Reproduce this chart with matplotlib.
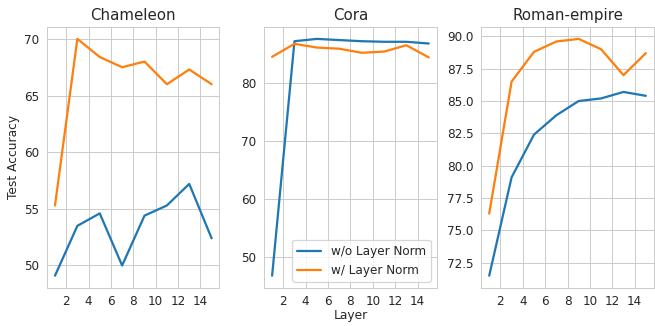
import matplotlib
matplotlib.use('Agg')
import matplotlib.pyplot as plt
import seaborn as sns

sns.set_style('whitegrid')
plt.rcParams['xtick.labelsize'] = 9.6
plt.rcParams['ytick.labelsize'] = 9.6
plt.rcParams['axes.labelsize'] = 9.8
plt.rcParams['legend.fontsize'] = 9.6
plt.rcParams['xtick.major.pad'] = 2.5
plt.rcParams['ytick.major.pad'] = 3

layers = [1, 3, 5, 7, 9, 11, 13, 15]

# Chameleon
cham_wo = [49.1, 53.5, 54.6, 50.0, 54.4, 55.3, 57.2, 52.4]
cham_w = [55.3, 70.0, 68.4, 67.5, 68.0, 66.0, 67.3, 66.0]

# Cora
cora_wo = [46.7, 87.3, 87.7, 87.5, 87.3, 87.2, 87.2, 86.9]
cora_w = [84.6, 86.85, 86.2, 86.0, 85.3, 85.5, 86.6, 84.5]

# Roman-empire
roman_wo = [71.5, 79.1, 82.4, 83.9, 85.0, 85.2, 85.7, 85.4]
roman_w = [76.3, 86.5, 88.8, 89.6, 89.8, 89.0, 87.0, 88.7]

titles = ['Chameleon', 'Cora', 'Roman-empire']
series_wo = [cham_wo, cora_wo, roman_wo]
series_w = [cham_w, cora_w, roman_w]

fig, axes = plt.subplots(1, 3, figsize=(655/90, 326/90), dpi=90)
fig.subplots_adjust(left=0.072, right=0.998, top=0.917, bottom=0.118, wspace=0.26)

for ax, t, ywo, yw in zip(axes, titles, series_wo, series_w):
    ax.plot(layers, ywo, color='#1f77b4', lw=1.8, label='w/o Layer Norm')
    ax.plot(layers, yw, color='#ff7f0e', lw=1.8, label='w/ Layer Norm')
    ax.set_title(t, fontsize=12)
    ax.set_xticks(range(2, 15, 2))

axes[0].set_ylabel('Test Accuracy', labelpad=3)
axes[1].set_xlabel('Layer', labelpad=1)
axes[1].legend(loc='lower right')

fig.savefig('out.png', dpi=90)
